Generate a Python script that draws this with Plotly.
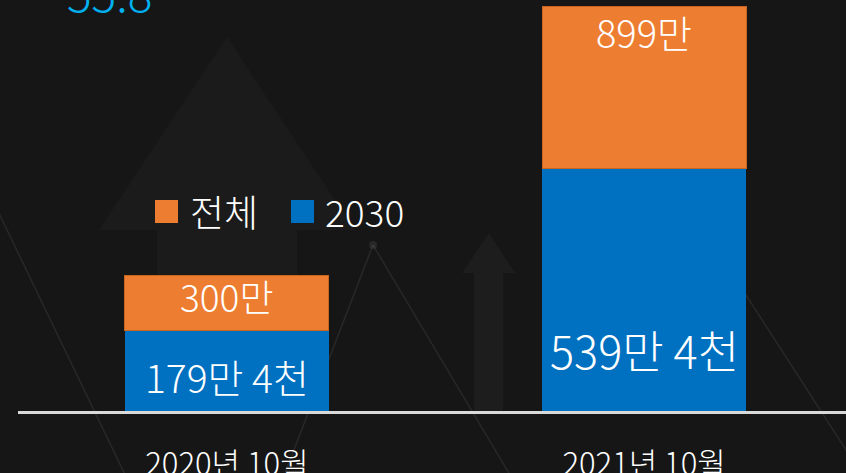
import plotly.graph_objects as go

# ---- data (unit: 만 명) ----
categories = ["2020년 10월", "2021년 10월"]
young_2030 = [179.4, 539.4]          # 2030 (blue)
total_all = [300, 899]               # 전체 (orange, stacked total)
label_2030 = ["179만 4천", "539만 4천"]
label_total = ["300만", "899만"]
headline = "55.8"

ORANGE = "#ED7D31"
BLUE = "#0070C0"
FONT = "Noto Sans CJK KR"
W = 300

remain = [t - y for t, y in zip(total_all, young_2030)]

fig = go.Figure()
fig.add_trace(go.Bar(x=categories, y=young_2030, name="2030",
                     marker=dict(color=BLUE, line=dict(width=0)),
                     hoverinfo="skip", showlegend=False))
fig.add_trace(go.Bar(x=categories, y=remain, name="전체",
                     marker=dict(color=ORANGE, line=dict(color="#C8651F", width=1)),
                     hoverinfo="skip", showlegend=False))

# plot-area pixel helpers (plot area spans x 18..846, y 0..411)
def px(x):
    return (x - 18) / 828

def py(y):
    return (411 - y) / 411

shapes = []
faint = "rgba(255,255,255,0.022)"
# big faint arrow
shapes.append(dict(type="path", xref="paper", yref="paper", layer="below",
                   path="M {} {} L {} {} L {} {} L {} {} L {} {} L {} {} L {} {} Z".format(
                       px(227), py(37), px(355), py(230), px(297), py(230), px(297), py(411),
                       px(157), py(411), px(157), py(230), px(99), py(230)),
                   fillcolor=faint, line=dict(width=0)))
# small faint arrow
shapes.append(dict(type="path", xref="paper", yref="paper", layer="below",
                   path="M {} {} L {} {} L {} {} L {} {} L {} {} L {} {} L {} {} Z".format(
                       px(489), py(233), px(515), py(273), px(503), py(273), px(503), py(411),
                       px(474), py(411), px(474), py(273), px(462), py(273)),
                   fillcolor="rgba(255,255,255,0.03)", line=dict(width=0)))
linec = "rgba(255,255,255,0.08)"
for (x0, y0, x1, y1) in [(-5, 205, 130, 485), (373, 245, 285, 473), (373, 245, 516, 485),
                         (640, 131, 861, 473)]:
    shapes.append(dict(type="line", xref="paper", yref="paper", layer="below",
                       x0=px(x0), y0=py(y0), x1=px(x1), y1=py(y1),
                       line=dict(color=linec, width=1.5)))
shapes.append(dict(type="circle", xref="paper", yref="paper", layer="below",
                   x0=px(369), y0=py(241), x1=px(377), y1=py(249),
                   fillcolor="rgba(255,255,255,0.08)", line=dict(width=0)))

# legend squares
shapes.append(dict(type="rect", xref="paper", yref="paper",
                   x0=px(155), x1=px(178), y0=py(223), y1=py(200),
                   fillcolor=ORANGE, line=dict(width=0)))
shapes.append(dict(type="rect", xref="paper", yref="paper",
                   x0=px(291), x1=px(314), y0=py(223), y1=py(200),
                   fillcolor=BLUE, line=dict(width=0)))

annotations = [
    dict(text=headline, xref="paper", yref="paper", x=px(109), y=1, yshift=8,
         xanchor="center", yanchor="middle", showarrow=False,
         font=dict(family=FONT, size=46, color="#00B0F0", weight=W)),
    dict(text="전체", xref="paper", yref="paper", x=px(188), y=py(211),
         xanchor="left", yanchor="middle", showarrow=False,
         font=dict(family=FONT, size=37, color="white", weight=W)),
    dict(text="2030", xref="paper", yref="paper", x=px(323), y=py(211),
         xanchor="left", yanchor="middle", showarrow=False,
         font=dict(family=FONT, size=37, color="white", weight=W)),
]

# bar value labels
blue_sizes = [39, 45]
blue_shift = [-5, -60]
for i, c in enumerate(categories):
    annotations.append(dict(text=label_2030[i], x=c, y=young_2030[i] / 2, xref="x", yref="y",
                            yshift=blue_shift[i], showarrow=False, yanchor="middle",
                            font=dict(family=FONT, size=blue_sizes[i], color="white", weight=W)))
annotations.append(dict(text=label_total[0], x=categories[0],
                        y=(young_2030[0] + total_all[0]) / 2, xref="x", yref="y",
                        yshift=7, showarrow=False, yanchor="middle",
                        font=dict(family=FONT, size=37, color="white", weight=W)))
annotations.append(dict(text=label_total[1], x=categories[1], y=total_all[1],
                        xref="x", yref="y", yshift=-25, showarrow=False, yanchor="middle",
                        font=dict(family=FONT, size=38, color="white", weight=W)))

fig.update_layout(
    width=846, height=473,
    margin=dict(l=18, r=0, t=0, b=62, pad=0, autoexpand=False),
    paper_bgcolor="#161616", plot_bgcolor="rgba(0,0,0,0)",
    barmode="stack", bargap=0.511,
    showlegend=False,
    shapes=shapes, annotations=annotations,
    font=dict(family=FONT, color="white"),
    xaxis=dict(type="category", range=[-0.501, 1.484], showgrid=False, zeroline=False,
               showline=True, linecolor="#D9D9D9", linewidth=3, ticks="",
               tickfont=dict(family=FONT, size=31, color="white", weight=W),
               ticklabelstandoff=24, fixedrange=True, automargin=False),
    yaxis=dict(range=[0, 913], visible=False, fixedrange=True, automargin=False),
)

fig.write_html("out.html", config={"displayModeBar": False},
               post_script="document.body.style.margin='0';document.body.style.background='#161616';")
